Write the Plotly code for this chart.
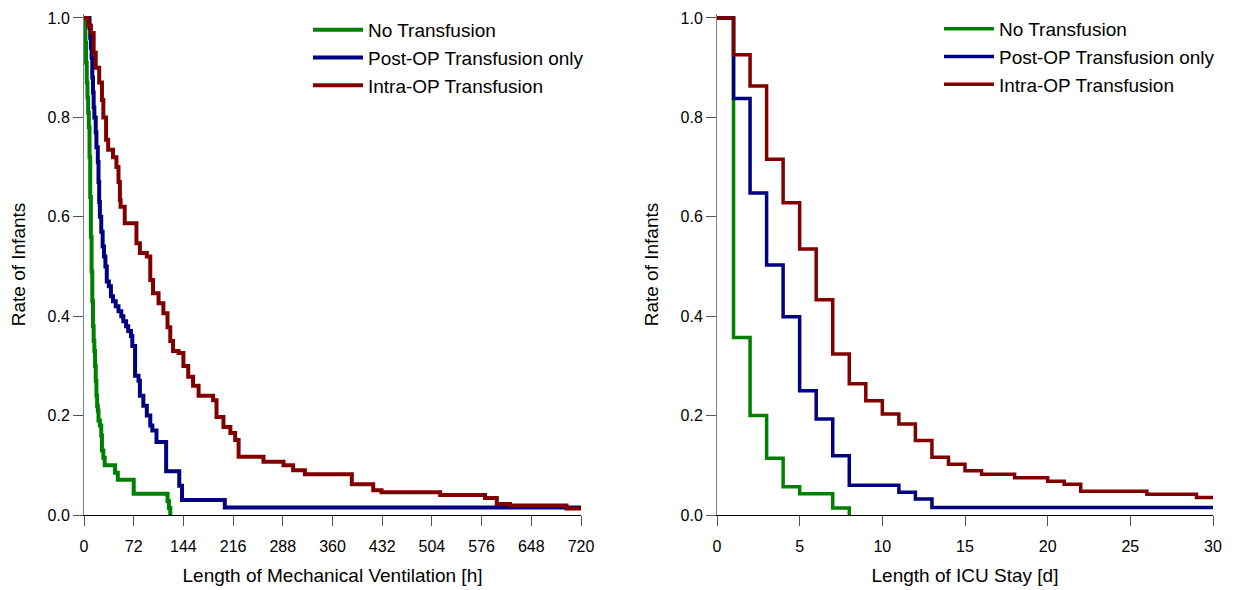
import plotly.graph_objects as go

# ---------------- data: left panel (mechanical ventilation, hours) ----------------
mv_no_t = [0, 1, 2, 3, 4, 5, 6, 7, 8, 9, 10, 11, 12, 13, 14, 15, 16, 17, 18, 19, 20, 21, 23, 25, 26, 28, 30, 45, 49, 72, 121, 123, 125]
mv_no_s = [1.0, 0.98, 0.95, 0.91, 0.87, 0.84, 0.81, 0.78, 0.72, 0.64, 0.56, 0.49, 0.43, 0.38, 0.35, 0.33, 0.30, 0.27, 0.24, 0.22, 0.21, 0.19, 0.18, 0.16, 0.13, 0.115, 0.10, 0.085, 0.071, 0.043, 0.028, 0.014, 0.0]

mv_post_t = [0, 8, 9, 10, 11, 12, 13, 14, 15, 17, 18, 20, 21, 22, 23, 25, 27, 29, 31, 33, 36, 39, 42, 46, 50, 54, 57, 61, 64, 68, 70, 74, 79, 81, 86, 91, 96, 99, 105, 119, 138, 142, 204, 720]
mv_post_s = [1.0, 0.98, 0.96, 0.94, 0.92, 0.88, 0.85, 0.82, 0.80, 0.77, 0.74, 0.71, 0.67, 0.63, 0.60, 0.57, 0.54, 0.52, 0.50, 0.47, 0.46, 0.44, 0.43, 0.42, 0.41, 0.40, 0.39, 0.38, 0.37, 0.36, 0.34, 0.28, 0.27, 0.24, 0.22, 0.20, 0.18, 0.17, 0.147, 0.088, 0.059, 0.03, 0.015, 0.015]

mv_intra_t = [0, 6, 10, 14, 17, 22, 26, 28, 32, 35, 42, 47, 50, 52, 53, 59, 76, 81, 91, 96, 100, 108, 115, 121, 125, 129, 137, 144, 151, 158, 166, 187, 192, 202, 212, 219, 224, 260, 289, 303, 320, 388, 419, 431, 516, 581, 598, 617, 699, 720]
mv_intra_s = [1.0, 0.985, 0.97, 0.93, 0.90, 0.87, 0.835, 0.80, 0.755, 0.735, 0.72, 0.70, 0.67, 0.634, 0.62, 0.587, 0.547, 0.527, 0.52, 0.473, 0.446, 0.426, 0.406, 0.378, 0.35, 0.33, 0.326, 0.30, 0.278, 0.26, 0.24, 0.231, 0.197, 0.177, 0.165, 0.151, 0.117, 0.107, 0.10, 0.09, 0.082, 0.062, 0.05, 0.046, 0.04, 0.034, 0.022, 0.019, 0.013, 0.013]

mv_ticks = [0, 72, 144, 216, 288, 360, 432, 504, 576, 648, 720]

# ---------------- data: right panel (ICU stay, days) ----------------
icu_no_t = [0, 1, 2, 3, 4, 5, 7, 8]
icu_no_s = [1.0, 0.357, 0.20, 0.114, 0.057, 0.043, 0.014, 0.0]

icu_post_t = [0, 1, 2, 3, 4, 5, 6, 7, 8, 11, 12, 13, 30]
icu_post_s = [1.0, 0.838, 0.648, 0.503, 0.399, 0.25, 0.193, 0.119, 0.06, 0.046, 0.032, 0.015, 0.015]

icu_intra_t = [0, 1, 2, 3, 4, 5, 6, 7, 8, 9, 10, 11, 12, 13, 14, 15, 16, 18, 20, 21, 22, 26, 29, 30]
icu_intra_s = [1.0, 0.926, 0.863, 0.716, 0.628, 0.535, 0.433, 0.324, 0.264, 0.23, 0.203, 0.183, 0.15, 0.116, 0.102, 0.089, 0.082, 0.075, 0.068, 0.062, 0.048, 0.042, 0.035, 0.035]

icu_ticks = [0, 5, 10, 15, 20, 25, 30]

names = ["No Transfusion", "Post-OP Transfusion only", "Intra-OP Transfusion"]
colors = ["#008000", "#000080", "#800000"]

FONT = "Liberation Sans, Arial, sans-serif"

fig = go.Figure()

left = [(mv_no_t, mv_no_s), (mv_post_t, mv_post_s), (mv_intra_t, mv_intra_s)]
right = [(icu_no_t, icu_no_s), (icu_post_t, icu_post_s), (icu_intra_t, icu_intra_s)]

for i, (t, s) in enumerate(left):
    fig.add_trace(go.Scatter(x=t, y=s, mode="lines", line=dict(shape="hv", color=colors[i], width=4),
                             name=names[i], xaxis="x", yaxis="y", legend="legend"))
for i, (t, s) in enumerate(right):
    fig.add_trace(go.Scatter(x=t, y=s, mode="lines", line=dict(shape="hv", color=colors[i], width=3.5),
                             name=names[i], xaxis="x2", yaxis="y2", legend="legend2"))

W, H = 1234, 590
ML, MR, MT, MB = 84, W - 1213, 14, H - 515
PW = W - ML - MR
PH = H - MT - MB
ytop = 1.008

xcommon = dict(showgrid=False, zeroline=False, showline=True, linecolor="black", linewidth=1,
               ticks="outside", ticklen=10, tickcolor="#555555", tickwidth=1, automargin=False,
               ticklabelstandoff=7,
               tickfont=dict(family=FONT, size=16, color="black"),
               title_font=dict(family=FONT, size=19, color="black"), title_standoff=14)
ycommon = dict(showgrid=False, zeroline=False, showline=True, linecolor="#808080", linewidth=1,
               ticks="outside", ticklen=10, tickcolor="#555555", tickwidth=1, automargin=False,
               tickfont=dict(family=FONT, size=16, color="black"),
               tickvals=[0, 0.2, 0.4, 0.6, 0.8, 1.0], ticktext=["0.0", "0.2", "0.4", "0.6", "0.8", "1.0"],
               range=[0, ytop], domain=[0, 1],
               title_font=dict(family=FONT, size=19, color="black"), title_standoff=16)

fig.update_layout(
    width=W, height=H,
    margin=dict(l=ML, r=MR, t=MT, b=MB, autoexpand=False),
    paper_bgcolor="white", plot_bgcolor="white",
    font=dict(family=FONT, size=16, color="black"),
    xaxis=dict(domain=[0, (581 - ML) / PW], range=[0, 720], tickvals=mv_ticks,
               title_text="Length of Mechanical Ventilation [h]", anchor="y", **xcommon),
    yaxis=dict(anchor="x", title_text="Rate of Infants", **ycommon),
    xaxis2=dict(domain=[(717 - ML) / PW, 1], range=[0, 30], tickvals=icu_ticks,
                title_text="Length of ICU Stay [d]", anchor="y2", **xcommon),
    yaxis2=dict(anchor="x2", title_text="Rate of Infants", **ycommon),
    legend=dict(x=(308 - ML) / PW, y=1 + 3 / PH, xanchor="left", yanchor="top",
                bgcolor="rgba(0,0,0,0)", font=dict(family=FONT, size=19, color="black"), itemwidth=50),
    legend2=dict(x=(939 - ML) / PW, y=1 + 4 / PH, xanchor="left", yanchor="top",
                 bgcolor="rgba(0,0,0,0)", font=dict(family=FONT, size=19, color="black"), itemwidth=50),
    showlegend=True,
)

fig.write_html("out.html", post_script="document.body.style.margin='0';",
               config={"displayModeBar": False})
